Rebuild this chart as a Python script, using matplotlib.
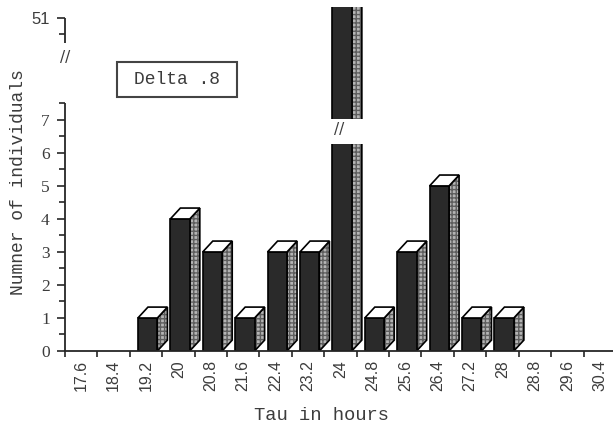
import numpy as np
import matplotlib
matplotlib.use("Agg")
import matplotlib.pyplot as plt
from matplotlib.patches import Polygon, Rectangle
from matplotlib.ticker import FixedLocator

# data
tau = ['17.6', '18.4', '19.2', '20', '20.8', '21.6', '22.4', '23.2', '24',
       '24.8', '25.6', '26.4', '27.2', '28', '28.8', '29.6', '30.4']
counts = [0, 0, 1, 4, 3, 1, 3, 3, 51, 1, 3, 5, 1, 1, 0, 0, 0]
lower_ticks = [0, 1, 2, 3, 4, 5, 6, 7]
upper_ticks = [51]

TEXT = '#3c3c3c'
LINE = '#262626'

# broken y scale: 0..7.5 linear, squeeze 7.5..50.25, then linear again
LO, HI, SHIFT = 7.5, 50.25, 40.91
MID = (HI - SHIFT - LO) / (HI - LO)


def fwd(y):
    y = np.asarray(y, dtype=float)
    return np.where(y <= LO, y, np.where(y >= HI, y - SHIFT, LO + (y - LO) * MID))


def inv(u):
    u = np.asarray(u, dtype=float)
    return np.where(u <= LO, u, np.where(u >= HI - SHIFT, u + SHIFT, LO + (u - LO) / MID))


W, H = 613, 429
fig = plt.figure(figsize=(W / 100, H / 100), dpi=100)
ax = fig.add_axes([65 / W, (H - 351) / H, (W - 65) / W, 344 / H])
ax.set_yscale('function', functions=(fwd, inv))
ax.set_ylim(0, 51.33)
ax.set_xlim(0, 16.91)

# 3d bars
DX, DY = 0.31, 0.33
for i, v in enumerate(counts):
    if v == 0:
        continue
    h = v if v <= LO else 60
    x0, x1 = i + 0.25, i + 0.85
    front = [(x0, 0), (x1, 0), (x1, h), (x0, h)]
    side = [(x1, 0), (x1 + DX, DY), (x1 + DX, h + DY), (x1, h)]
    top = [(x0, h), (x1, h), (x1 + DX, h + DY), (x0 + DX, h + DY)]
    ax.add_patch(Polygon(side, closed=True, fc='#b4b4b4', ec='#5e5e5e', lw=0,
                         hatch='++++', zorder=2))
    ax.add_patch(Polygon(side, closed=True, fill=False, ec='black', lw=1.2, zorder=2.1))
    ax.add_patch(Polygon(front, closed=True, fc='#2a2a2a', ec='black', lw=1.2, zorder=2.2))
    ax.add_patch(Polygon(top, closed=True, fc='white', ec='black', lw=1.2, zorder=2.2))
    if v > LO:
        # break in the tall bar
        ax.add_patch(Rectangle((i + 0.1, 6.28), 1.2, 0.76, fc='white', ec='none', zorder=3))
        ax.text(i + 0.47, 6.7, '//', ha='center', va='center', fontsize=11,
                color=TEXT, family='DejaVu Sans', zorder=4)

# axes frame
for s in ['top', 'right', 'left']:
    ax.spines[s].set_visible(False)
ax.spines['bottom'].set_color(LINE)
ax.spines['bottom'].set_linewidth(1.3)
ax.plot([0, 0], [0, LO], color=LINE, lw=1.3, clip_on=False, solid_capstyle='butt')
ax.plot([0, 0], [HI, 51], color=LINE, lw=1.3, clip_on=False, solid_capstyle='butt')
ax.text(0, 40, '//', ha='center', va='center', fontsize=11, color=TEXT,
        family='DejaVu Sans', clip_on=False)

ax.yaxis.set_major_locator(FixedLocator(lower_ticks + upper_ticks))
ax.yaxis.set_minor_locator(FixedLocator([t + 0.5 for t in lower_ticks] + [50.5]))
ax.set_yticklabels([str(t) for t in lower_ticks + upper_ticks])
ax.tick_params(axis='y', which='major', length=6, width=1.2, color=LINE, pad=5,
               labelcolor=TEXT)
ax.tick_params(axis='y', which='minor', length=4, width=1.2, color=LINE)
for lbl in ax.get_yticklabels():
    if lbl.get_text() == '51':
        lbl.set_family('Liberation Sans')
        lbl.set_fontsize(12)
    else:
        lbl.set_family('Liberation Serif')
        lbl.set_fontsize(12.5)

ax.set_xticks(np.arange(len(tau)) + 0.5)
ax.set_xticklabels(tau, rotation=90, family='Liberation Sans', fontsize=11.5,
                   color=TEXT)
ax.xaxis.set_minor_locator(FixedLocator(np.arange(len(tau))))
ax.tick_params(axis='x', which='major', length=0, pad=6.5)
ax.tick_params(axis='x', which='minor', length=4, width=1.2, color=LINE)

fig.text(19 / W, 1 - 182 / H, 'Numner of individuals', rotation=90, ha='center',
         va='center', family='Liberation Mono', fontsize=13, color=TEXT)
fig.text(322 / W, 1 - 415 / H, 'Tau in hours', ha='center', va='center',
         family='Liberation Mono', fontsize=13.5, color=TEXT)

fig.add_artist(Rectangle((117 / W, 1 - 97 / H), 120 / W, 35 / H, transform=fig.transFigure,
                         fill=False, ec='#444444', lw=1.5))
fig.text(177 / W, 1 - 80 / H, 'Delta .8', ha='center', va='center',
         family='Liberation Mono', fontsize=13, color=TEXT)

fig.savefig('out.png', dpi=100)
